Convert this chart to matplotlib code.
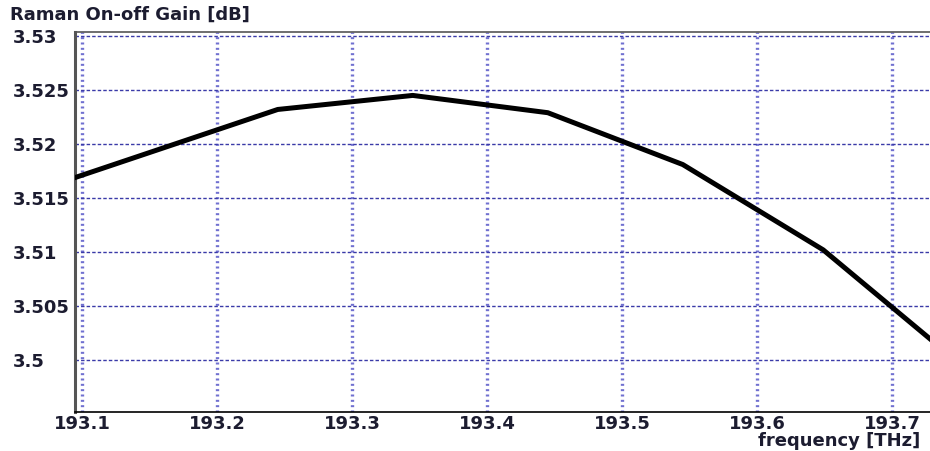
import matplotlib
matplotlib.use("Agg")
import matplotlib.pyplot as plt

# Raman on-off gain vs. frequency
frequency_thz = [193.095, 193.245, 193.345, 193.445, 193.545, 193.649, 193.745]
gain_db = [3.5169, 3.5232, 3.5245, 3.5229, 3.5181, 3.5102, 3.5002]

x_ticks = [193.1, 193.2, 193.3, 193.4, 193.5, 193.6, 193.7]
x_tick_labels = ["193.1", "193.2", "193.3", "193.4", "193.5", "193.6", "193.7"]
y_ticks = [3.5, 3.505, 3.51, 3.515, 3.52, 3.525, 3.53]
y_tick_labels = ["3.5", "3.505", "3.51", "3.515", "3.52", "3.525", "3.53"]

TEXT_COLOR = "#1c1c30"
FONT = dict(family="DejaVu Sans", size=13, weight="bold")

fig = plt.figure(figsize=(9.3, 4.51), dpi=100)
ax = fig.add_axes([0.0806, 0.0865, 0.9194, 0.8425])

ax.plot(frequency_thz, gain_db, color="black", linewidth=3.6,
        solid_joinstyle="round", zorder=3)

ax.set_xlim(193.0948, 193.7281)
ax.set_ylim(3.49519, 3.53037)

ax.set_xticks(x_ticks)
ax.set_xticklabels(x_tick_labels, fontdict=FONT)
ax.set_yticks(y_ticks)
ax.set_yticklabels(y_tick_labels, fontdict=FONT)
ax.tick_params(length=0, colors=TEXT_COLOR)
ax.tick_params(axis="x", pad=2)
ax.tick_params(axis="y", pad=45)
for label in ax.get_yticklabels():
    label.set_horizontalalignment("left")

# vertical grid: heavy square dots, horizontal grid: fine dashes
for xv in x_ticks:
    ax.axvline(xv, color="#7070d0", linewidth=2.4, linestyle=(0, (0.6, 1.0)),
               zorder=1)
for yv in y_ticks:
    ax.axhline(yv, color="#3a3aa8", linewidth=1.0, linestyle=(0, (2.5, 1.5)),
               zorder=1)

ax.spines["left"].set_color("#555555")
ax.spines["left"].set_linewidth(2.2)
ax.spines["bottom"].set_color("black")
ax.spines["bottom"].set_linewidth(1.2)
ax.spines["top"].set_color("#555555")
ax.spines["top"].set_linewidth(1.2)
ax.spines["right"].set_visible(False)

fig.text(0.011, 0.968, "Raman On-off Gain [dB]", fontdict=FONT,
         color=TEXT_COLOR, ha="left", va="center")
fig.text(0.99, 0.022, "frequency [THz]", fontdict=FONT,
         color=TEXT_COLOR, ha="right", va="center")

fig.savefig("out.png", dpi=100)
